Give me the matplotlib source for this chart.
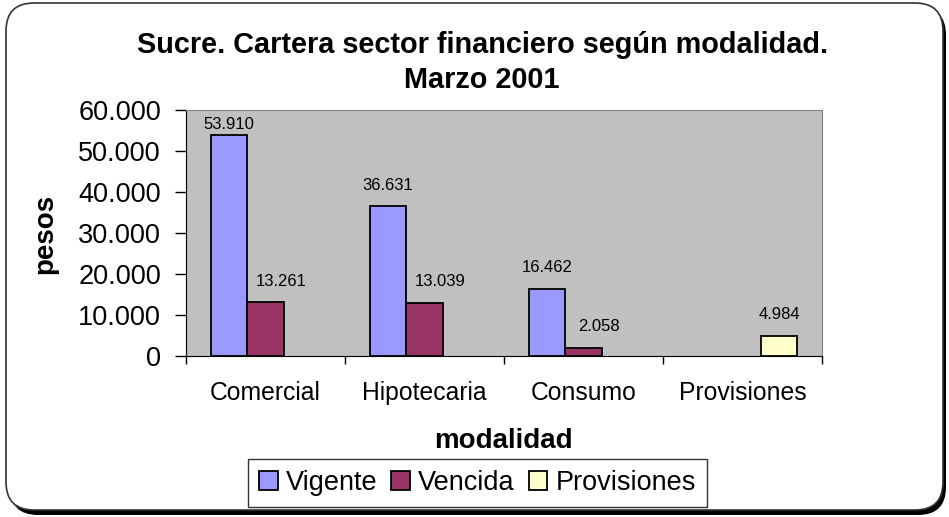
import numpy as np
import matplotlib
matplotlib.use("Agg")
import matplotlib.pyplot as plt
from matplotlib.patches import FancyBboxPatch, Patch
from matplotlib.ticker import FuncFormatter, FixedLocator

plt.rcParams['font.family'] = ['Liberation Sans', 'DejaVu Sans']

# Datos (pesos)
categorias = ['Comercial', 'Hipotecaria', 'Consumo', 'Provisiones']
vigente = [53910, 36631, 16462, np.nan]
vencida = [13261, 13039, 2058, np.nan]
provisiones = [np.nan, np.nan, np.nan, 4984]
series = ['Vigente', 'Vencida', 'Provisiones']
colores = ['#9999FF', '#993366', '#FFFFCC']

W, H = 949, 517
fig = plt.figure(figsize=(W / 100, H / 100), dpi=100)

# Marco redondeado con sombra (coordenadas en pixeles)
bg = fig.add_axes([0, 0, 1, 1], zorder=-5)
bg.set_xlim(0, W)
bg.set_ylim(H, 0)
bg.axis('off')
bg.add_patch(FancyBboxPatch((10, 7), 936, 508, boxstyle="round,pad=0,rounding_size=28",
                            facecolor='black', edgecolor='black', linewidth=0))
bg.add_patch(FancyBboxPatch((6, 3), 937, 507, boxstyle="round,pad=0,rounding_size=28",
                            facecolor='white', edgecolor='#333333', linewidth=1.2))

ax = fig.add_axes([186 / W, 1 - 356 / H, (822 - 186) / W, (356 - 110) / H])
ax.set_facecolor('#C0C0C0')

x = np.arange(len(categorias))
ancho = 0.23
datos = [vigente, vencida, provisiones]
for i, (vals, col, nom) in enumerate(zip(datos, colores, series)):
    pos = x + (i - 1) * ancho
    ax.bar(pos, vals, width=ancho, color=col, edgecolor='black', linewidth=1.3, label=nom, zorder=3)
    for px, v in zip(pos, vals):
        if np.isnan(v):
            continue
        ytxt = min(v + 3200, 54700)
        dx = 0.1 if i == 1 else 0.0
        ax.text(px + dx, ytxt, f"{int(v):,}".replace(',', '.'), ha='center', va='bottom',
                fontsize=12, zorder=4)

ax.set_xlim(-0.5, 3.5)
ax.set_ylim(0, 60000)
ax.set_yticks(np.arange(0, 60001, 10000))
ax.yaxis.set_major_formatter(FuncFormatter(lambda v, p: f"{int(v):,}".replace(',', '.')))
ax.tick_params(axis='y', labelsize=19.5, length=8, width=1, pad=10, color='black')

ax.set_xticks(x)
ax.set_xticklabels(categorias)
ax.xaxis.set_minor_locator(FixedLocator(np.arange(-0.5, 4, 1)))
ax.tick_params(axis='x', which='major', length=0, labelsize=17.8, pad=18)
ax.tick_params(axis='x', which='minor', length=6, width=1, color='black')

ax.spines['left'].set_color('black')
ax.spines['bottom'].set_color('black')
ax.spines['top'].set_color('#808080')
ax.spines['right'].set_color('#808080')

fig.text(0.508, 1 - 45 / H, 'Sucre. Cartera sector financiero según modalidad.',
         ha='center', va='center', fontsize=20.8, fontweight='bold')
fig.text(0.508, 1 - 80 / H, 'Marzo 2001',
         ha='center', va='center', fontsize=20.8, fontweight='bold')
fig.text(45 / W, 1 - 234 / H, 'pesos', rotation=90, ha='center', va='center',
         fontsize=20, fontweight='bold')
fig.text(503 / W, 1 - 441 / H, 'modalidad', ha='center', va='center',
         fontsize=20, fontweight='bold')

handles = [Patch(facecolor=c, edgecolor='black', linewidth=1.3) for c in colores]
leg = fig.legend(handles, series, loc='center', bbox_to_anchor=(477.5 / W, 1 - 483 / H),
                 ncol=3, fontsize=19.5, frameon=True, fancybox=False, edgecolor='black',
                 handlelength=0.7, handleheight=0.7, handletextpad=0.3, columnspacing=0.5,
                 borderpad=0.4, borderaxespad=0)
leg.get_frame().set_linewidth(1.0)

fig.savefig('out.png', dpi=100)
